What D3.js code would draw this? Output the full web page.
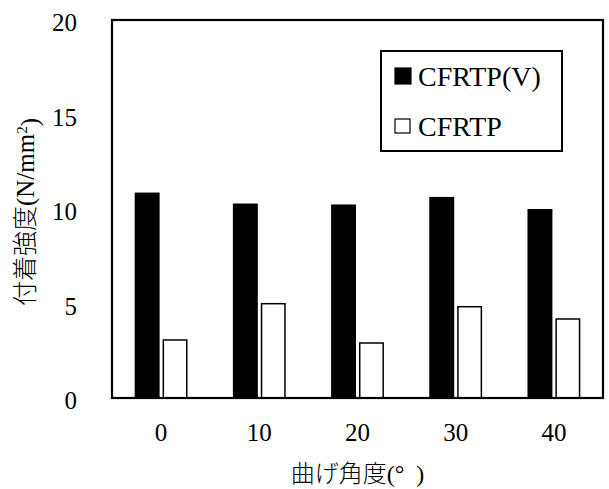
<!DOCTYPE html>
<html>
<head>
<meta charset="utf-8">
<script src="https://cdn.jsdelivr.net/npm/d3@7"></script>
<style>
  body { margin: 0; background: #fff; }
  svg text { font-family: "Liberation Serif", "Noto Sans CJK JP", serif; fill: #000; }
  .lat { font-family: "Liberation Serif", serif; font-weight: normal; }
  .jp { font-family: "Noto Sans CJK JP", sans-serif; font-weight: 300; }
</style>
</head>
<body>
<svg width="609" height="489"></svg>
<script>
// data
var angles = ["0", "10", "20", "30", "40"];
var seriesNames = ["CFRTP(V)", "CFRTP"];
var valuesV = [10.83, 10.25, 10.2, 10.6, 9.96];
var valuesPlain = [3.07, 4.99, 2.91, 4.83, 4.18];
var yTicks = [0, 5, 10, 15, 20];

var svg = d3.select("svg"),
    margin = {top: 20, right: 6, bottom: 91, left: 112},
    width = +svg.attr("width") - margin.left - margin.right,
    height = +svg.attr("height") - margin.top - margin.bottom;

var g = svg.append("g").attr("transform", "translate(" + margin.left + "," + margin.top + ")");

var x = d3.scaleBand().domain(angles).range([0, width]);
var x1 = d3.scaleBand().domain(seriesNames).range([0, x.bandwidth()])
    .paddingInner(0.16).paddingOuter(0.84);
var y = d3.scaleLinear().domain([0, 20]).range([height, 0]);

var rows = angles.map(function(a, i) {
  return {angle: a, vals: [
    {key: seriesNames[0], v: valuesV[i]},
    {key: seriesNames[1], v: valuesPlain[i]}
  ]};
});

var groups = g.selectAll(".grp")
    .data(rows)
    .enter().append("g")
    .attr("class", "grp")
    .attr("transform", function(d) { return "translate(" + x(d.angle) + ",0)"; });

groups.selectAll("rect")
    .data(function(d) { return d.vals; })
    .enter().append("rect")
    .attr("x", function(d) { return x1(d.key); })
    .attr("y", function(d) { return y(d.v); })
    .attr("width", x1.bandwidth())
    .attr("height", function(d) { return height - y(d.v); })
    .attr("fill", function(d, i) { return i === 0 ? "#000" : "#fff"; })
    .attr("stroke", "#000")
    .attr("stroke-width", 1.5);

// axes
var yAxis = g.append("g")
    .call(d3.axisLeft(y).tickValues(yTicks).tickSize(0).tickPadding(35));
yAxis.select(".domain").remove();
yAxis.selectAll("text").attr("font-size", 25).attr("dy", "0.42em").attr("class", "lat");

var xAxis = g.append("g")
    .attr("transform", "translate(0," + height + ")")
    .call(d3.axisBottom(x).tickSize(0).tickPadding(25));
xAxis.select(".domain").remove();
xAxis.selectAll("text").attr("font-size", 25).attr("class", "lat");

// frame
g.append("rect")
    .attr("x", 0).attr("y", 0)
    .attr("width", width).attr("height", height)
    .attr("fill", "none")
    .attr("stroke", "#000")
    .attr("stroke-width", 2.2);

// axis titles
var xTitle = svg.append("text")
    .attr("x", margin.left + width / 2)
    .attr("y", 474)
    .attr("dy", "0.35em")
    .attr("text-anchor", "middle")
    .attr("font-size", 24)
    .style("white-space", "pre");
xTitle.append("tspan").attr("class", "jp").text("曲げ角度");
xTitle.append("tspan").attr("class", "lat").text("(°  )");

var yTitle = svg.append("text")
    .attr("transform", "translate(25,212) rotate(-90)")
    .attr("dy", "0.35em")
    .attr("text-anchor", "middle")
    .attr("font-size", 25);
yTitle.append("tspan").attr("class", "jp").text("付着強度");
yTitle.append("tspan").attr("class", "lat").text("(N/mm");
yTitle.append("tspan").attr("class", "lat").attr("dy", "-0.45em").attr("font-size", 15).text("2");
yTitle.append("tspan").attr("class", "lat").attr("dy", "0.45em").text(")");

// legend
var legend = svg.append("g").attr("transform", "translate(381,51)");
legend.append("rect")
    .attr("width", 181).attr("height", 100)
    .attr("fill", "#fff").attr("stroke", "#000").attr("stroke-width", 2);

var items = legend.selectAll(".item")
    .data(seriesNames)
    .enter().append("g")
    .attr("class", "item")
    .attr("transform", function(d, i) { return "translate(0," + (25 + i * 50) + ")"; });

items.append("rect")
    .attr("x", 14).attr("y", function(d, i) { return i === 0 ? -8 : -7; })
    .attr("width", function(d, i) { return i === 0 ? 16 : 15; })
    .attr("height", function(d, i) { return i === 0 ? 16 : 14; })
    .attr("fill", function(d, i) { return i === 0 ? "#000" : "#fff"; })
    .attr("stroke", "#000").attr("stroke-width", 1.2);

items.append("text")
    .attr("x", 37)
    .attr("dy", "0.35em")
    .attr("font-size", 28)
    .attr("class", "lat")
    .text(function(d) { return d; });
</script>
</body>
</html>
